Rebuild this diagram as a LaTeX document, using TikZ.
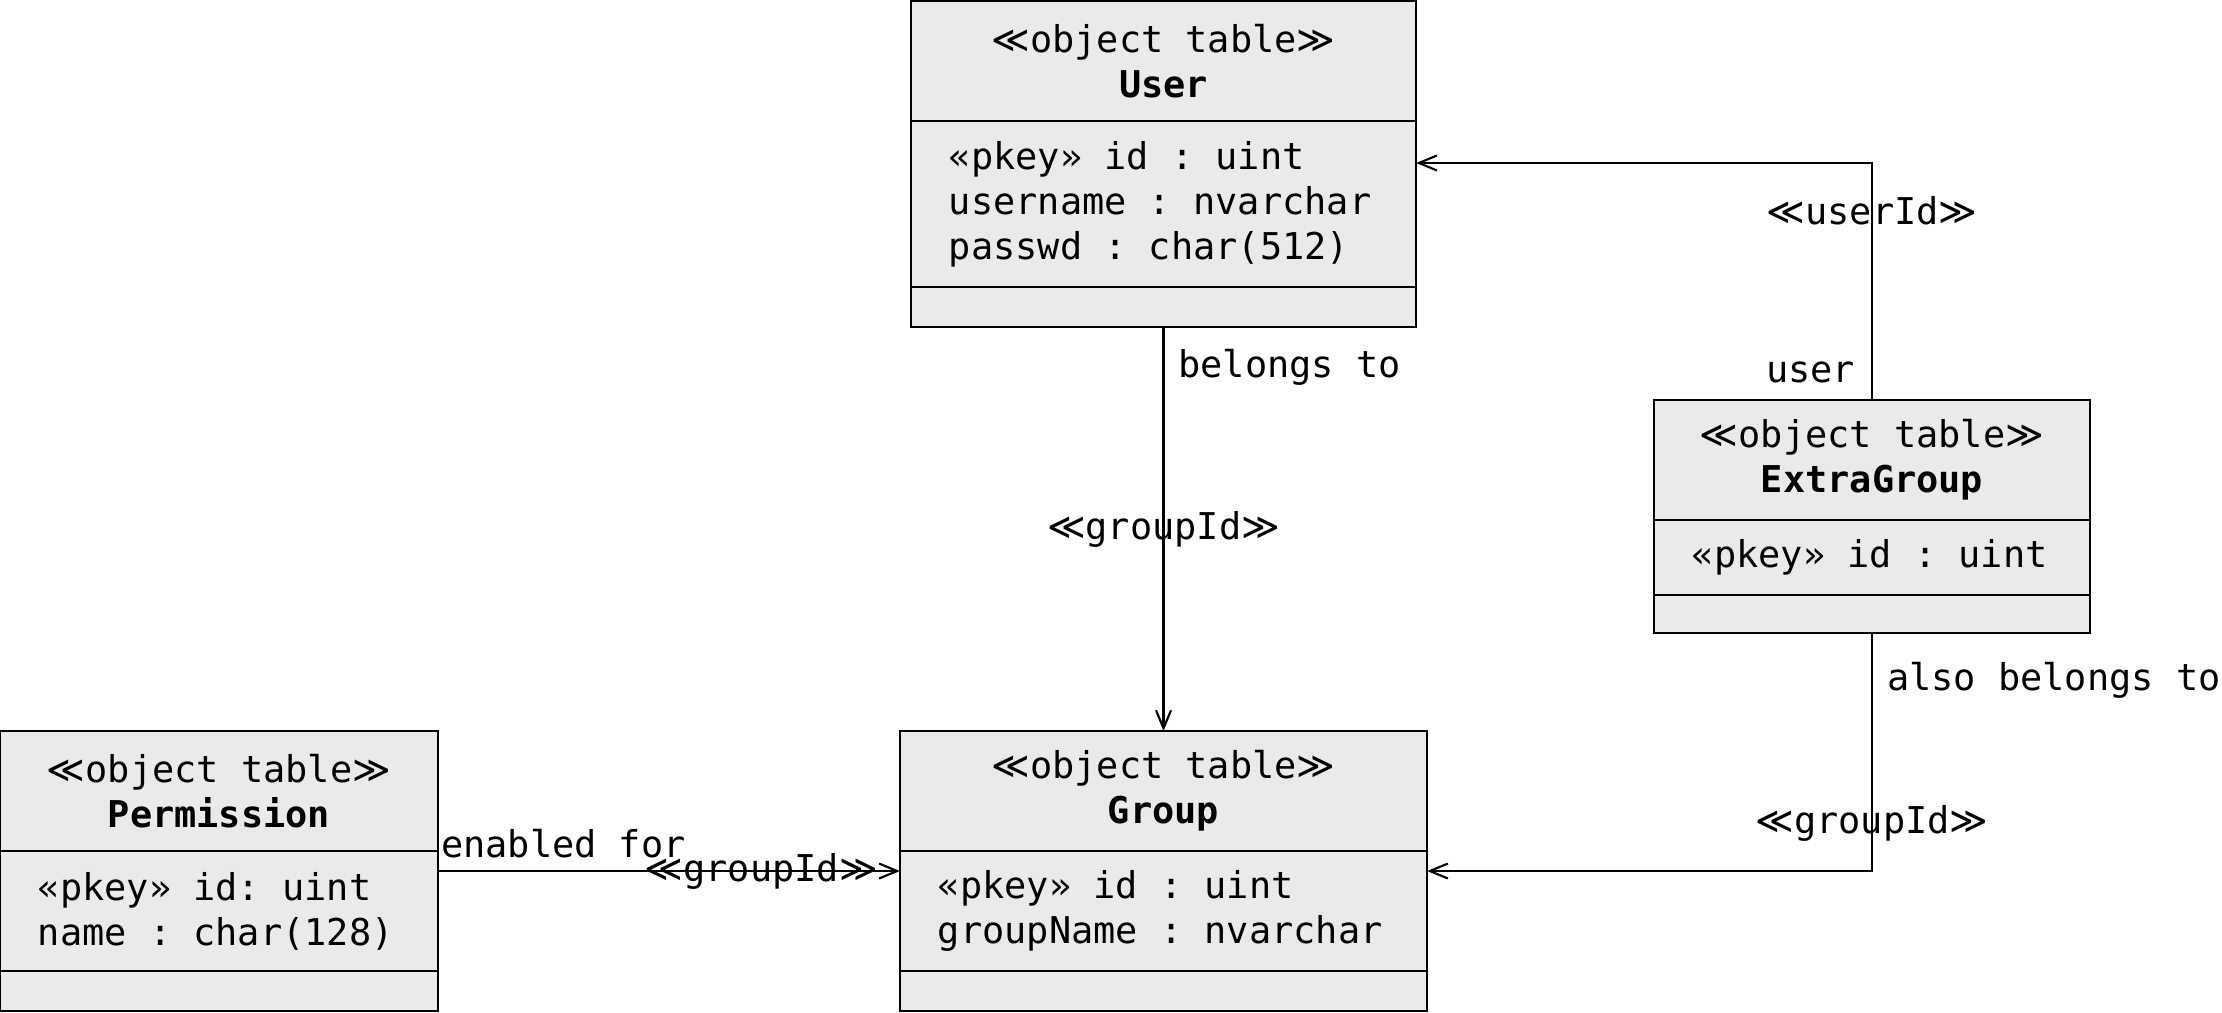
\documentclass[tikz,border=0pt]{standalone}
\usepackage{fontspec}
\setmonofont{DejaVu Sans Mono}
\newfontfamily\symfont{DejaVu Sans}
\usepackage{tikz}
\usetikzlibrary{positioning, arrows.meta}
\definecolor{tblfill}{HTML}{EAEAEA}
\newcommand\umlfont{\ttfamily\fontsize{10.5pt}{12.8pt}\selectfont\frenchspacing}
\newcommand\sopen{{\symfont ≪}}
\newcommand\sclose{{\symfont ≫}}

\begin{document}
\begin{tikzpicture}[x=0.01cm, y=-0.01cm, line width=0.6pt,
      every node/.style={font=\umlfont, outer sep=0pt},
      tblhead/.style={draw, fill=tblfill, align=center, inner sep=0pt, minimum height=1.2cm},
      tblbody/.style={draw, fill=tblfill, align=left, inner xsep=0.38cm, inner ysep=0pt,
        execute at begin node={\spaceskip=0pt\xspaceskip=0pt\relax}},
      tblfoot/.style={draw, fill=tblfill, inner sep=0pt, minimum height=0.4cm},
      fk/.style={-{Straight Barb[length=1.8mm, width=1.5mm]}},
      lbl/.style={inner sep=0pt}]

    \useasboundingbox (0,0) rectangle (2222,1012);

    % User
    \node[tblhead, minimum width=5.05cm, anchor=north] (userH) at (1163.5,1)
      {\sopen object table\sclose\\\textbf{User}};
    \node[tblbody, text width=4.29cm, minimum height=1.66cm, below=0pt of userH] (userA)
      {«pkey» id : uint\\username : nvarchar\\passwd : char(512)};
    \node[tblfoot, minimum width=5.05cm, below=0pt of userA] (userF) {};

    % ExtraGroup
    \node[tblhead, minimum width=4.36cm, anchor=north] (extraH) at (1872,400)
      {\sopen object table\sclose\\\textbf{ExtraGroup}};
    \node[tblbody, text width=3.6cm, minimum height=0.75cm, below=0pt of extraH] (extraA)
      {«pkey» id : uint};
    \node[tblfoot, minimum width=4.36cm, minimum height=0.38cm, below=0pt of extraA] (extraF) {};

    % Group
    \node[tblhead, minimum width=5.27cm, anchor=north] (groupH) at (1163.5,731)
      {\sopen object table\sclose\\\textbf{Group}};
    \node[tblbody, text width=4.51cm, minimum height=1.2cm, below=0pt of groupH] (groupA)
      {«pkey» id : uint\\groupName : nvarchar};
    \node[tblfoot, minimum width=5.27cm, below=0pt of groupA] (groupF) {};

    % Permission
    \node[tblhead, minimum width=4.38cm, anchor=north] (permH) at (219,731)
      {\sopen object table\sclose\\\textbf{Permission}};
    \node[tblbody, text width=3.62cm, minimum height=1.2cm, below=0pt of permH] (permA)
      {«pkey» id: uint\\name : char(128)};
    \node[tblfoot, minimum width=4.38cm, below=0pt of permA] (permF) {};

    % connectors
    \coordinate (uy) at (0,163);
    \coordinate (gy) at (0,871);
    \coordinate (ucorner) at (extraH.north |- uy);
    \coordinate (gcorner) at (extraF.south |- gy);

    \draw[fk] (userF.south) -- node[lbl, pos=0.1, right=0.15cm] {belongs to}
      node[lbl, pos=0.5] {\sopen groupId\sclose} (groupH.north);

    \draw[fk] (extraH.north) -- node[lbl, pos=0.115, left=0.17cm] {user}
      node[lbl, pos=0.8] {\sopen userId\sclose} (ucorner) -- (ucorner -| userA.east);

    \draw[fk] (extraF.south) -- node[lbl, pos=0.2, right=0.15cm] {also belongs to}
      node[lbl, pos=0.8] {\sopen groupId\sclose} (gcorner) -- (gcorner -| groupA.east);

    \draw[fk] (permA.east |- gy) -- node[lbl, pos=0, anchor=south west, xshift=0.03cm, yshift=0.13cm] {enabled for}
      node[lbl, pos=0.7] {\sopen groupId\sclose} (groupA.west |- gy);
  \end{tikzpicture}
\end{document}
